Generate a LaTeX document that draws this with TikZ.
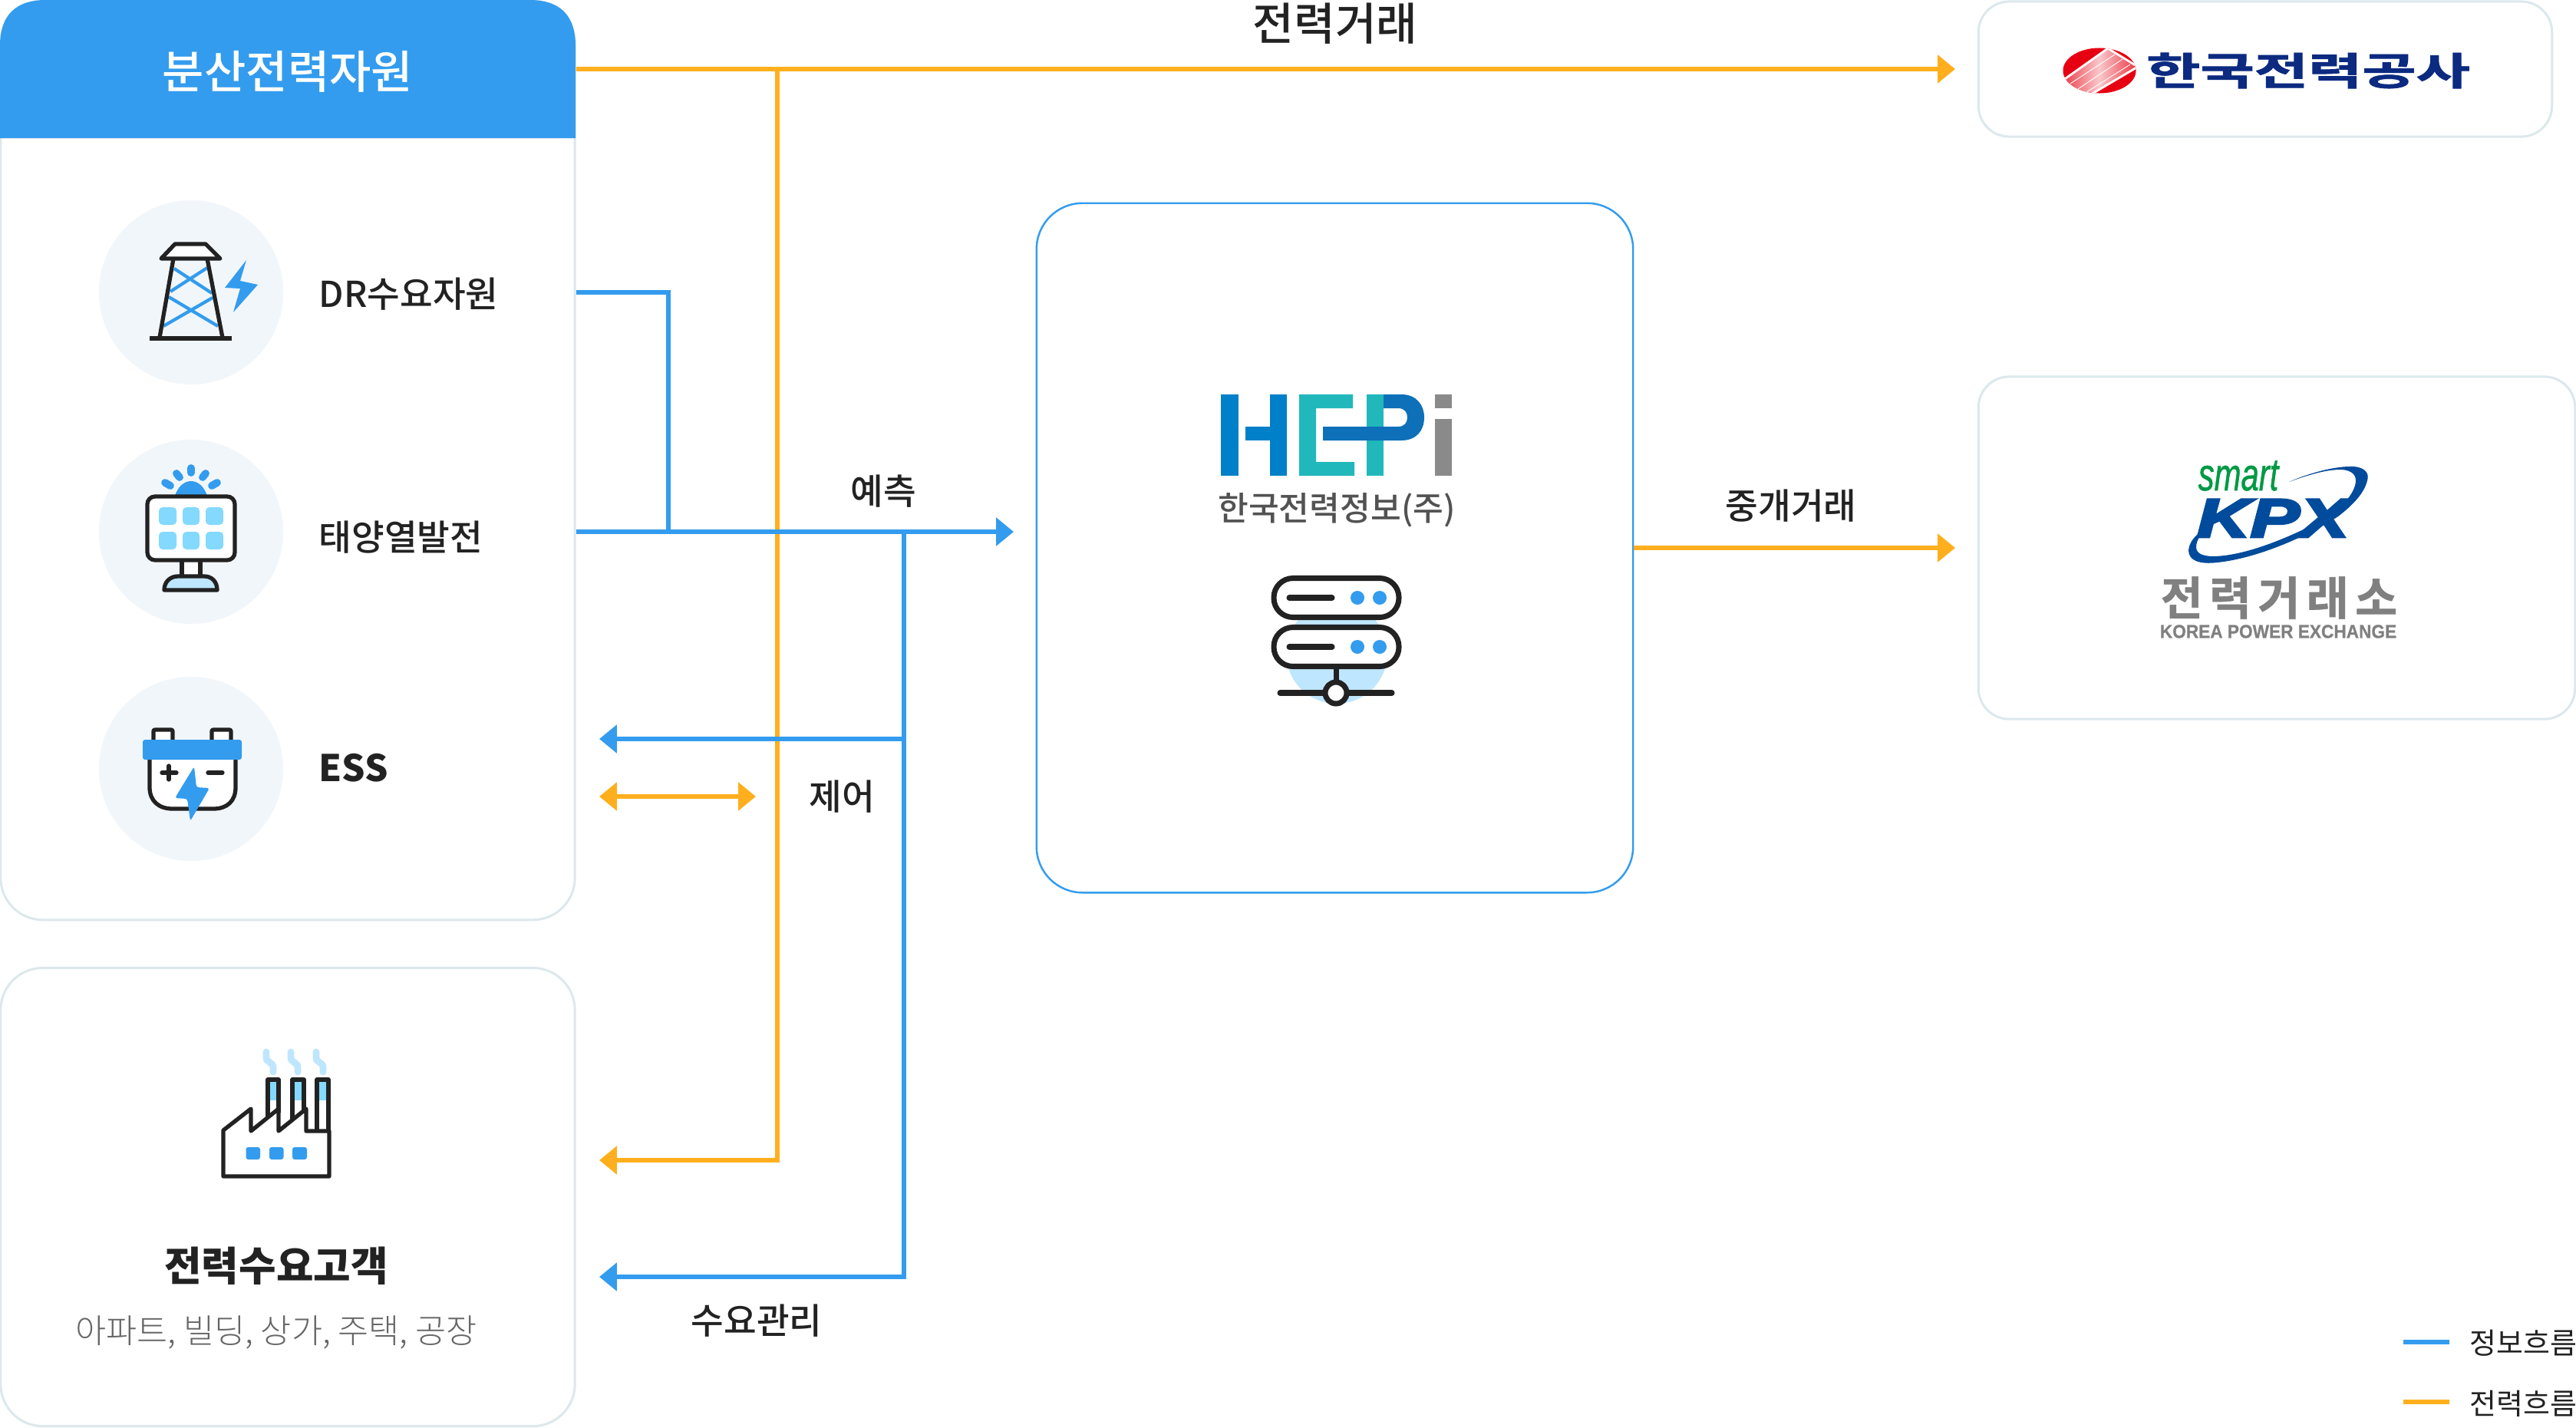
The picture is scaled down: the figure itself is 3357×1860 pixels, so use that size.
\documentclass[tikz,border=0pt]{standalone}
\usepackage{fontspec}
\setmainfont{Noto Sans CJK KR}
\newfontfamily\krmedium{Noto Sans CJK KR Medium}
\newfontfamily\krlight{Noto Sans CJK KR Light}
\newfontfamily\krspaced[LetterSpace=14,FakeBold=1]{Noto Sans CJK KR Bold}
\newfontfamily\krheavy[FakeBold=1.5]{Noto Sans CJK KR Bold}
\newfontfamily\latinsans{Liberation Sans}
\newfontfamily\latinheavy[FakeBold=4]{Liberation Sans Bold Italic}
\newfontfamily\latinsmart[FakeBold=1]{Liberation Sans Italic}
\newfontfamily\latinplate[FakeBold=0.6]{Liberation Sans Bold}
\usepackage{tikz}
\usetikzlibrary{arrows.meta}
\definecolor{infoblue}{HTML}{339CEE}
\definecolor{poweramber}{HTML}{FFAF1E}
\definecolor{panelline}{HTML}{DCE8EC}
\definecolor{inkdark}{HTML}{222222}
\definecolor{circlepale}{HTML}{F1F6FB}
\definecolor{cellsky}{HTML}{84D9FF}
\definecolor{skypale}{HTML}{BFE6FF}
\definecolor{hepiblue}{HTML}{0080C8}
\definecolor{hepiteal}{HTML}{21B8BC}
\definecolor{hepideep}{HTML}{0D70B8}
\definecolor{hepigrey}{HTML}{8A8A8A}
\definecolor{kepcored}{HTML}{E60012}
\definecolor{kepconavy}{HTML}{0B2A80}
\definecolor{kpxblue}{HTML}{004B9B}
\definecolor{kpxgreen}{HTML}{009944}
\definecolor{kpxgrey}{HTML}{808080}
\tikzset{
	>={Triangle[length=6.5pt,width=10.2pt]},
	panel/.style={draw=panelline,line width=0.85pt,fill=white,rounded corners=0.55cm,inner sep=0pt},
	infoline/.style={draw=infoblue,line width=1.7pt},
	powerline/.style={draw=poweramber,line width=1.7pt},
	iconline/.style={draw=inkdark,line width=1.5pt,line join=round},
	rayline/.style={draw=infoblue,line width=2.8pt,line cap=round},
	smokeline/.style={draw=skypale,line width=2.5pt,line cap=round},
	itemlabel/.style={anchor=west,inner sep=0pt,text=inkdark,font=\krmedium\fontsize{13.2}{16}\selectfont},
	flowlabel/.style={inner sep=0pt,text=inkdark,font=\krmedium\fontsize{13.2}{16}\selectfont},
	legendlabel/.style={anchor=west,inner sep=0pt,text=inkdark,font=\fontsize{10.8}{13}\selectfont}
}
\begin{document}
\begin{tikzpicture}[x=0.01cm,y=-0.01cm]
	\useasboundingbox (0,0) rectangle (3357,1860);

	\node[panel,minimum width=7.48cm,minimum height=11.97cm] (resbox) at (375,600) {};
	\node[panel,minimum width=7.48cm,minimum height=5.97cm] (demandbox) at (375,1560) {};
	\node[panel,minimum width=7.47cm,minimum height=1.76cm,rounded corners=0.4cm] (kepcobox) at (2952,90) {};
	\node[panel,minimum width=7.77cm,minimum height=4.46cm,rounded corners=0.4cm] (kpxbox) at (2967,714) {};
	\node[draw=infoblue,line width=0.7pt,fill=white,rounded corners=0.6cm,inner sep=0pt,minimum width=7.77cm,minimum height=8.98cm] (hepibox) at (1739.5,714) {};

	\fill[infoblue] (0,180) -- (0,60) .. controls (0,20) and (20,0) .. (60,0) -- (690,0) .. controls (730,0) and (750,20) .. (750,60) -- (750,180) -- cycle;
	\node[inner sep=0pt,text=white,font=\krmedium\fontsize{16.8}{20}\selectfont] (reshead) at (375,93) {분산전력자원};

	\node[circle,fill=circlepale,minimum size=2.4cm,inner sep=0pt] (drcircle) at (249,381) {};
	\node[circle,fill=circlepale,minimum size=2.4cm,inner sep=0pt] (solarcircle) at (249,693) {};
	\node[circle,fill=circlepale,minimum size=2.4cm,inner sep=0pt] (esscircle) at (249,1002) {};
	\node[itemlabel] (drlabel) at (415,383) {DR수요자원};
	\node[itemlabel] (solarlabel) at (415,700) {태양열발전};
	\node[itemlabel,font=\bfseries\fontsize{13.6}{16}\selectfont] (esslabel) at (415,1001) {ESS};

	\draw[infoblue,line width=1.2pt] (227,350) -- (276,382);
	\draw[infoblue,line width=1.2pt] (270,349) -- (222,380);
	\draw[infoblue,line width=1.2pt] (220,387) -- (284,425);
	\draw[infoblue,line width=1.2pt] (277,388) -- (213,425);
	\draw[iconline,fill=white] (228,318) -- (268,318) -- (287,337) -- (210,337) -- cycle;
	\draw[iconline] (226,337) -- (208,440);
	\draw[iconline] (270,337) -- (290,440);
	\draw[iconline] (195,441) -- (302,441);
	\fill[infoblue] (321,339) -- (313,366) -- (336,371) -- (304,407) -- (313,376) -- (293,375) -- cycle;

	\fill[infoblue] (228,646) .. controls (232,634) and (240,627) .. (249,627) .. controls (258,627) and (266,634) .. (270,646) -- cycle;
	\draw[rayline] (249,610) -- (249,616);
	\draw[rayline] (230,617) -- (234,622);
	\draw[rayline] (268,617) -- (264,622);
	\draw[rayline] (215,629) -- (222,633);
	\draw[rayline] (283,629) -- (276,633);
	\draw[iconline,fill=white] (237,730) -- (237,752) -- (261,752) -- (261,730);
	\draw[iconline,fill=white,rounded corners=0.1cm] (192,647) rectangle (306,730);
	\draw[iconline,fill=skypale] (214,769) .. controls (214,758) and (222,751) .. (232,751) -- (266,751) .. controls (276,751) and (283,758) .. (283,769) -- cycle;
	\fill[cellsky,rounded corners=0.05cm] (207,661) rectangle (230,684);
	\fill[cellsky,rounded corners=0.05cm] (238,661) rectangle (260,684);
	\fill[cellsky,rounded corners=0.05cm] (268,661) rectangle (291,684);
	\fill[cellsky,rounded corners=0.05cm] (207,693) rectangle (230,716);
	\fill[cellsky,rounded corners=0.05cm] (238,693) rectangle (260,716);
	\fill[cellsky,rounded corners=0.05cm] (268,693) rectangle (291,716);

	\draw[iconline,fill=white,rounded corners=0.02cm] (200,970) -- (200,951) -- (225,951) -- (225,970);
	\draw[iconline,fill=white,rounded corners=0.02cm] (276,970) -- (276,951) -- (301,951) -- (301,970);
	\draw[iconline,fill=white] (195,985) -- (195,1026) .. controls (195,1044) and (207,1054) .. (225,1054) -- (278,1054) .. controls (296,1054) and (307,1044) .. (307,1026) -- (307,985);
	\fill[infoblue,rounded corners=0.03cm] (186,964) rectangle (315,990);
	\draw[iconline,line cap=round] (211,1007) -- (230,1007);
	\draw[iconline,line cap=round] (220,998) -- (220,1016);
	\draw[iconline,line cap=round] (271,1007) -- (290,1007);
	\fill[infoblue,rounded corners=0.03cm] (253,999) -- (256,1026) -- (273,1027) -- (248,1070) -- (244,1041) -- (228,1040) -- cycle;

	\draw[smokeline] (347,1371) -- (347,1378) .. controls (347,1385) and (356,1384) .. (356,1391) -- (356,1397);
	\draw[smokeline] (379,1371) -- (379,1378) .. controls (379,1385) and (388,1384) .. (388,1391) -- (388,1397);
	\draw[smokeline] (412,1371) -- (412,1378) .. controls (412,1385) and (421,1384) .. (421,1391) -- (421,1397);
	\fill[cellsky] (349,1407) rectangle (364,1434);
	\fill[cellsky] (381,1407) rectangle (396,1434);
	\fill[cellsky] (413,1407) rectangle (428,1434);
	\draw[iconline] (349,1465) -- (349,1407) -- (363,1407) -- (363,1450);
	\draw[iconline] (381,1465) -- (381,1407) -- (396,1407) -- (396,1450);
	\draw[iconline] (413,1474) -- (413,1407) -- (428,1407) -- (428,1474);
	\draw[iconline,fill=white] (291,1533) -- (291,1473) -- (327,1445) -- (327,1474) -- (363,1445) -- (363,1474) -- (399,1445) -- (399,1474) -- (429,1474) -- (429,1533) -- cycle;
	\fill[infoblue,rounded corners=0.03cm] (320.5,1495) rectangle (339,1511);
	\fill[infoblue,rounded corners=0.03cm] (351,1495) rectangle (369.5,1511);
	\fill[infoblue,rounded corners=0.03cm] (381,1495) rectangle (400,1511);
	\node[inner sep=0pt,text=inkdark,font=\bfseries\fontsize{15}{18}\selectfont] (demandtitle) at (360,1650) {전력수요고객};
	\node[inner sep=0pt,text=black!60,font=\krlight\fontsize{12.4}{15}\selectfont] (demandsub) at (360,1736) {아파트, 빌딩, 상가, 주택, 공장};

	\fill[hepiblue] (1591,514) rectangle (1614,620);
	\fill[hepiblue] (1654.5,514) rectangle (1677,620);
	\fill[hepiblue] (1623,556) rectangle (1654.5,574);
	\fill[hepiteal] (1693,514) -- (1763,514) -- (1763,532) -- (1715,532) -- (1715,602) -- (1765,602) -- (1765,620) -- (1693,620) -- cycle;
	\fill[hepiteal] (1781,514) rectangle (1803,620);
	\fill[hepideep] (1724,556) -- (1822,556) .. controls (1830,556) and (1834,551) .. (1834,544) .. controls (1834,537) and (1830,532) .. (1822,532) -- (1803,532) -- (1803,514) -- (1826,514) .. controls (1846,514) and (1856,528) .. (1856,544) .. controls (1856,561) and (1846,574) .. (1826,574) -- (1724,574) -- cycle;
	\fill[hepigrey] (1870,514) rectangle (1892,532);
	\fill[hepigrey] (1870,546) rectangle (1892,620);
	\node[inner sep=0pt,text=black!68,font=\krmedium\fontsize{12.3}{15}\selectfont] (hepiname) at (1742,665) {한국전력정보(주)};

	\fill[skypale] (1742,851) circle (0.66cm);
	\draw[iconline,line width=2pt,fill=white,rounded corners=0.25cm] (1660,753.5) rectangle (1823,804.5);
	\draw[iconline,line width=2pt,fill=white,rounded corners=0.25cm] (1660,817.5) rectangle (1823,868.5);
	\draw[iconline,line width=2pt,line cap=round] (1680,779) -- (1736,779);
	\draw[iconline,line width=2pt,line cap=round] (1680,843) -- (1736,843);
	\fill[infoblue] (1769,779) circle (0.09cm);
	\fill[infoblue] (1798,779) circle (0.09cm);
	\fill[infoblue] (1769,843) circle (0.09cm);
	\fill[infoblue] (1798,843) circle (0.09cm);
	\draw[iconline,line width=2pt] (1741,868) -- (1741,890);
	\draw[iconline,line width=2pt,line cap=round] (1668,903) -- (1814,903);
	\draw[iconline,line width=2pt,fill=white] (1741,903) circle (0.14cm);

	\begin{scope}
		\clip (2736,92) ellipse (0.475cm and 0.295cm);
		\fill[kepcored] (2680,50) rectangle (2790,130);
		\shade[left color=kepcored!80,right color=kepcored!80,middle color=kepcored!22,draw=white,line width=0.8pt] (2685,107) -- (2747,63) -- (2786,87) -- (2720,126) -- cycle;
		\draw[white,line width=0.25pt] (2698,109) -- (2756,71);
		\draw[white,line width=0.25pt] (2708,116) -- (2766,77);
		\draw[white,line width=0.25pt] (2716,122) -- (2776,84);
	\end{scope}
	\node[inner sep=0pt,text=kepconavy,transform shape,xscale=1.53,font=\krheavy\fontsize{14.2}{17}\selectfont] (kepconame) at (3008,92) {한국전력공사};

	\node[anchor=base,inner sep=0pt,text=kpxgreen,transform shape,xscale=0.7,font=\latinsmart\fontsize{17}{19}\selectfont] (smartname) at (2917,639) {smart};
	\fill[kpxblue] (2983,628) .. controls (3010,616) and (3045,607) .. (3067,608) .. controls (3082,609) and (3088,617) .. (3085,626) .. controls (3081,645) and (3060,663) .. (3047,673) .. controls (3010,697) and (2945,727) .. (2890,733) .. controls (2865,736) and (2852,730) .. (2852,717) .. controls (2853,703) and (2868,691) .. (2883,683) .. controls (2870,692) and (2862,703) .. (2862,713) .. controls (2862,722) and (2872,725) .. (2885,725) .. controls (2930,724) and (2990,697) .. (3030,676) .. controls (3055,660) and (3070,640) .. (3070,626) .. controls (3070,616) and (3060,612) .. (3050,612) .. controls (3030,612) and (3005,620) .. (2983,628) -- cycle;
	\node[anchor=base,inner sep=0pt,text=kpxblue,transform shape,xscale=1.35,font=\latinheavy\fontsize{20.3}{22}\selectfont] (kpxname) at (2962,700) {KPX};
	\node[inner sep=0pt,text=kpxgrey,font=\krspaced\fontsize{17}{20}\selectfont] (kpxkorean) at (2970,779) {전력거래소};
	\node[inner sep=0pt,text=kpxgrey,transform shape,xscale=0.92,font=\latinplate\fontsize{7}{8}\selectfont] (kpxenglish) at (2969,823) {KOREA POWER EXCHANGE};

	\coordinate (kepcotip) at (2548,90);
	\coordinate (kpxtip) at (2548,714);
	\coordinate (hepitip) at (1321,693);
	\coordinate (tradejoin) at (1013,90);
	\coordinate (powertip) at (781,1512);
	\coordinate (drjoin) at (871,693);
	\coordinate (infojoin) at (1178,693);
	\coordinate (controljoin) at (1178,963);
	\coordinate (controltip) at (781,963);
	\coordinate (demandtip) at (781,1664);
	\coordinate (essleft) at (781,1038);
	\coordinate (essright) at (985,1038);

	\draw[powerline,->] (resbox.east |- kepcobox) -- (kepcotip);
	\draw[powerline,->] (tradejoin) |- (powertip);
	\draw[powerline,<->] (essleft) -- (essright);
	\draw[powerline,->] (hepibox.east |- kpxbox) -- (kpxtip);
	\draw[infoline] (resbox.east |- drcircle) -| (drjoin);
	\draw[infoline,->] (resbox.east |- solarcircle) -- (hepitip);
	\draw[infoline,->] (infojoin) |- (demandtip);
	\draw[infoline,->] (controljoin) -- (controltip);

	\node[inner sep=0pt,text=inkdark,font=\krmedium\fontsize{16.6}{20}\selectfont] (tradelabel) at (1740,31) {전력거래};
	\node[flowlabel] (forecastlabel) at (1151,640) {예측};
	\node[flowlabel] (controllabel) at (1097,1038) {제어};
	\node[flowlabel] (managelabel) at (986,1721) {수요관리};
	\node[flowlabel] (brokerlabel) at (2334,659) {중개거래};

	\coordinate (legendinfoa) at (3132,1749);
	\coordinate (legendinfob) at (3192,1749);
	\coordinate (legendpowera) at (3132,1827);
	\coordinate (legendpowerb) at (3192,1827);
	\draw[infoline] (legendinfoa) -- (legendinfob);
	\draw[powerline] (legendpowera) -- (legendpowerb);
	\node[legendlabel] (infolegend) at (3218,1750) {정보흐름};
	\node[legendlabel] (powerlegend) at (3218,1829) {전력흐름};
\end{tikzpicture}
\end{document}
